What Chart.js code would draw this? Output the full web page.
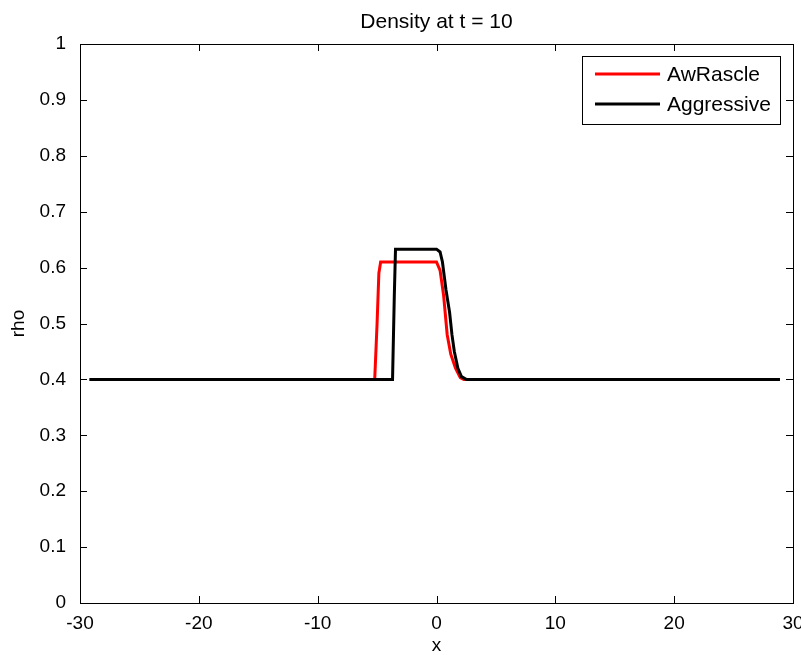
<!DOCTYPE html>
<html>
<head>
<meta charset="utf-8">
<script src="https://cdn.jsdelivr.net/npm/chart.js@4/dist/chart.umd.min.js"></script>
<style>
    body { margin: 0; background: #fff; }
    #wrap { width: 801px; height: 655px; }
</style>
</head>
<body>
<div id="wrap"><canvas id="chart" width="801" height="655"></canvas></div>
<script>
const chartTitle = 'Density at t = 10';
const xLabel = 'x';
const yLabel = 'rho';

const seriesNames = ['AwRascle', 'Aggressive'];
const seriesColors = ['#ff0000', '#000000'];

const awRascleX = [-29.2, -5.2, -5.0, -4.85, -4.7, 0.0, 0.3, 0.6, 0.9, 1.2, 1.6, 2.0, 2.3, 28.9];
const awRascleY = [0.4, 0.4, 0.5, 0.59, 0.61, 0.61, 0.595, 0.55, 0.48, 0.445, 0.42, 0.403, 0.4, 0.4];

const aggressiveX = [-29.2, -3.7, -3.55, -3.45, 0.0, 0.3, 0.5, 0.8, 1.1, 1.3, 1.5, 1.8, 2.1, 2.5, 28.9];
const aggressiveY = [0.4, 0.4, 0.55, 0.633, 0.633, 0.628, 0.61, 0.56, 0.52, 0.48, 0.45, 0.42, 0.405, 0.4, 0.4];

const FONT = 'Arial, "Liberation Sans", Helvetica, sans-serif';

window.addEventListener('load', () => {
    buildDensityChart();
});

function toPoints(xs, ys) {
    return xs.map((x, i) => ({ x: x, y: ys[i] }));
}

// box, inward ticks, titles and legend like the matlab figure
const matlabFrame = {
    id: 'matlabFrame',
    afterDraw(chart) {
        const ctx = chart.ctx;
        const a = chart.chartArea;
        const xs = chart.scales.x;
        const ys = chart.scales.y;
        const tick = 7;

        ctx.save();
        ctx.strokeStyle = '#000';
        ctx.lineWidth = 1;
        ctx.beginPath();
        xs.ticks.forEach(t => {
            const px = Math.round(xs.getPixelForValue(t.value)) + 0.5;
            ctx.moveTo(px, a.bottom); ctx.lineTo(px, a.bottom - tick);
            ctx.moveTo(px, a.top); ctx.lineTo(px, a.top + tick);
        });
        ys.ticks.forEach(t => {
            const py = Math.round(ys.getPixelForValue(t.value)) + 0.5;
            ctx.moveTo(a.left, py); ctx.lineTo(a.left + tick, py);
            ctx.moveTo(a.right, py); ctx.lineTo(a.right - tick, py);
        });
        ctx.stroke();
        ctx.strokeRect(Math.round(a.left) + 0.5, Math.round(a.top) + 0.5,
            Math.round(a.right - a.left), Math.round(a.bottom - a.top));

        ctx.fillStyle = '#000';
        ctx.textAlign = 'center';
        ctx.textBaseline = 'alphabetic';
        ctx.font = '21px ' + FONT;
        ctx.fillText(chartTitle, (a.left + a.right) / 2, 28);
        ctx.font = '19px ' + FONT;
        ctx.fillText(xLabel, (a.left + a.right) / 2, 651);
        ctx.save();
        ctx.translate(24, (a.top + a.bottom) / 2);
        ctx.rotate(-Math.PI / 2);
        ctx.fillText(yLabel, 0, 0);
        ctx.restore();

        // legend
        const lx = 582, ly = 56, lw = 198, lh = 68;
        ctx.fillStyle = '#fff';
        ctx.fillRect(lx, ly, lw, lh);
        ctx.strokeRect(lx + 0.5, ly + 0.5, lw, lh);
        ctx.font = '21px ' + FONT;
        ctx.textAlign = 'left';
        ctx.textBaseline = 'middle';
        seriesNames.forEach((name, i) => {
            const y = ly + 18 + i * 30;
            ctx.strokeStyle = seriesColors[i];
            ctx.lineWidth = 3;
            ctx.beginPath();
            ctx.moveTo(595, y); ctx.lineTo(660, y);
            ctx.stroke();
            ctx.fillStyle = '#000';
            ctx.fillText(name, 667, y + 1);
        });
        ctx.restore();
    }
};

function buildDensityChart() {
    const chartCtx = document.getElementById('chart').getContext('2d');

    new Chart(chartCtx, {
        type: 'line',
        data: {
            datasets: [{
                label: seriesNames[0],
                data: toPoints(awRascleX, awRascleY),
                borderColor: seriesColors[0],
                borderWidth: 3,
                pointRadius: 0,
                tension: 0,
                order: 2
            }, {
                label: seriesNames[1],
                data: toPoints(aggressiveX, aggressiveY),
                borderColor: seriesColors[1],
                borderWidth: 3,
                pointRadius: 0,
                tension: 0,
                order: 1
            }]
        },
        options: {
            responsive: false,
            animation: false,
            layout: {
                padding: { top: 44, right: 8, left: 0, bottom: 0 }
            },
            plugins: {
                legend: { display: false },
                title: { display: false },
                tooltip: { enabled: false }
            },
            scales: {
                x: {
                    type: 'linear',
                    min: -30,
                    max: 30,
                    grid: { display: false },
                    border: { display: false },
                    ticks: {
                        stepSize: 10,
                        padding: 1,
                        color: '#000',
                        maxRotation: 0,
                        font: { family: FONT, size: 19 }
                    },
                    afterFit(scale) {
                        scale.height = 52;
                        scale.paddingLeft = 0;
                        scale.paddingRight = 0;
                    }
                },
                y: {
                    min: 0,
                    max: 1,
                    grid: { display: false },
                    border: { display: false },
                    ticks: {
                        stepSize: 0.1,
                        padding: 6,
                        color: '#000',
                        font: { family: FONT, size: 19 },
                        callback: v => String(Number(v.toFixed(1)))
                    },
                    afterFit(scale) {
                        scale.width = 80;
                        scale.paddingTop = 0;
                        scale.paddingBottom = 0;
                    }
                }
            }
        },
        plugins: [matlabFrame]
    });
}
</script>
</body>
</html>
